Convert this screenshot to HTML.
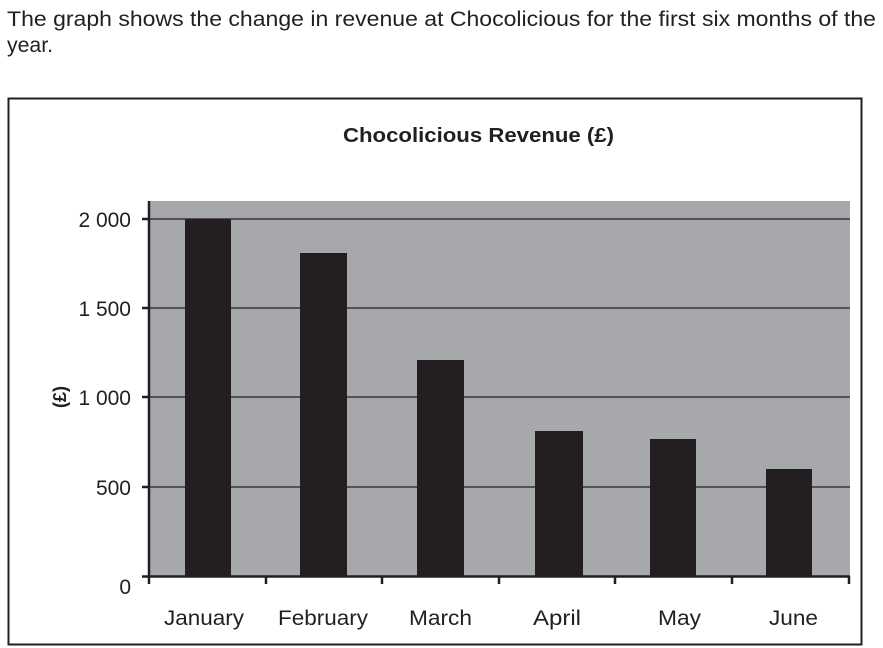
<!DOCTYPE html>
<html><head><style>
body{margin:0;background:#fff;width:883px;height:648px;overflow:hidden}
svg{display:block}
</style></head><body>
<svg width="883" height="648" xmlns="http://www.w3.org/2000/svg" font-family="Liberation Sans, sans-serif">
<text x="7" y="26" font-size="21" fill="#231f20" textLength="869" lengthAdjust="spacingAndGlyphs">The graph shows the change in revenue at Chocolicious for the first six months of the</text>
<text x="7" y="52" font-size="21" fill="#231f20" textLength="46" lengthAdjust="spacingAndGlyphs">year.</text>
<rect x="8.5" y="98.5" width="853" height="546" fill="none" stroke="#231f20" stroke-width="2"/>
<text x="343" y="142" font-size="20" font-weight="bold" fill="#231f20" textLength="271" lengthAdjust="spacingAndGlyphs">Chocolicious Revenue (£)</text>
<rect x="149" y="201" width="701" height="376" fill="#a7a8ab"/>
<g stroke="#231f20" stroke-width="1.2">
<line x1="149" y1="219" x2="850" y2="219"/>
<line x1="149" y1="308" x2="850" y2="308"/>
<line x1="149" y1="397" x2="850" y2="397"/>
<line x1="149" y1="487" x2="850" y2="487"/>
</g>
<g fill="#231f20">
<rect x="185" y="219" width="46" height="358"/>
<rect x="300" y="253" width="47" height="324"/>
<rect x="417" y="360" width="47" height="217"/>
<rect x="535" y="431" width="48" height="146"/>
<rect x="650" y="439" width="46" height="138"/>
<rect x="766" y="469" width="46" height="108"/>
</g>
<g stroke="#231f20" stroke-width="2.5">
<line x1="149" y1="201" x2="149" y2="584"/>
<line x1="142" y1="576.5" x2="850" y2="576.5"/>
<line x1="142" y1="219" x2="149" y2="219"/>
<line x1="142" y1="308" x2="149" y2="308"/>
<line x1="142" y1="397" x2="149" y2="397"/>
<line x1="142" y1="487" x2="149" y2="487"/>
<line x1="266" y1="576" x2="266" y2="584"/>
<line x1="382" y1="576" x2="382" y2="584"/>
<line x1="499" y1="576" x2="499" y2="584"/>
<line x1="615" y1="576" x2="615" y2="584"/>
<line x1="732" y1="576" x2="732" y2="584"/>
<line x1="849" y1="576" x2="849" y2="584"/>
</g>
<g font-size="21" fill="#231f20" text-anchor="end">
<text x="131" y="227">2 000</text>
<text x="131" y="316">1 500</text>
<text x="131" y="405">1 000</text>
<text x="131" y="495">500</text>
<text x="131" y="594">0</text>
</g>
<text transform="translate(66,397) rotate(-90)" font-size="18" font-weight="bold" text-anchor="middle" fill="#231f20">(£)</text>
<g font-size="21" fill="#231f20">
<text x="164" y="625" textLength="80" lengthAdjust="spacingAndGlyphs">January</text>
<text x="278" y="625" textLength="90" lengthAdjust="spacingAndGlyphs">February</text>
<text x="409" y="625" textLength="63" lengthAdjust="spacingAndGlyphs">March</text>
<text x="533" y="625" textLength="48" lengthAdjust="spacingAndGlyphs">April</text>
<text x="658" y="625" textLength="43" lengthAdjust="spacingAndGlyphs">May</text>
<text x="769" y="625" textLength="49" lengthAdjust="spacingAndGlyphs">June</text>
</g>
</svg>
</body></html>
